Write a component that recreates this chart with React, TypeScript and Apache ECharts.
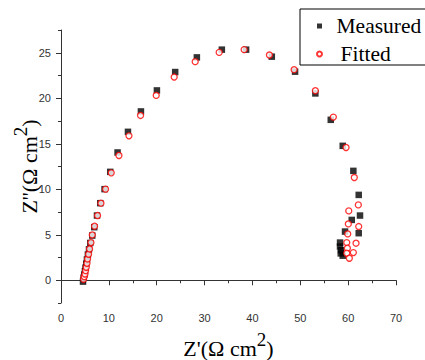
import React, { useEffect, useRef } from "react";
import * as echarts from "echarts";

// Measured impedance (Z' real, Z'' imaginary), Ω cm²
const measuredZr = [
  4.6, 4.72, 4.86, 5.0, 5.12, 5.27, 5.42, 5.62, 5.85, 6.12,
  6.53, 6.95, 7.52, 8.2, 9.1, 10.29, 11.82, 13.99, 16.7, 20.04,
  23.86, 28.39, 33.61, 38.68, 44.05, 48.91, 53.15, 56.37, 58.87, 61.09,
  62.21, 62.48, 62.21, 60.75, 59.35, 58.31, 58.3, 58.52, 58.45, 58.87,
];
const measuredZi = [
  -0.15, 0.28, 0.62, 1.0, 1.38, 1.82, 2.28, 2.82, 3.4, 4.1,
  4.91, 5.83, 7.11, 8.47, 10.01, 11.91, 14.04, 16.31, 18.55, 20.86,
  22.88, 24.49, 25.34, 25.34, 24.57, 22.92, 20.53, 17.63, 14.77, 12.02,
  9.38, 7.11, 5.17, 6.63, 5.35, 4.14, 3.7, 3.3, 2.95, 2.7,
];

// Fitted impedance
const fittedZr = [
  4.72, 4.86, 5.01, 5.14, 5.28, 5.43, 5.55, 5.76, 5.97, 6.26,
  6.53, 7.01, 7.64, 8.35, 9.31, 10.5, 12.11, 14.2, 16.62, 19.9,
  23.65, 28.04, 33.05, 38.27, 43.55, 48.71, 53.15, 56.91, 59.56, 61.29,
  62.13, 60.13, 62.21, 60.04, 59.92, 61.65, 59.71, 59.84, 61.09, 59.71, 60.25,
];
const fittedZi = [
  0.11, 0.4, 0.69, 1.06, 1.43, 1.87, 2.34, 2.86, 3.44, 4.14,
  4.98, 5.94, 7.11, 8.47, 10.01, 11.8, 13.71, 15.87, 18.11, 20.31,
  22.33, 24.02, 25.04, 25.34, 24.75, 23.14, 20.83, 17.93, 14.59, 11.29,
  8.28, 7.62, 5.9, 6.19, 5.09, 4.07, 4.14, 3.52, 3.04, 2.97, 2.42,
];

const yMajorTicks = [0, 5, 10, 15, 20, 25];
const seriesNames = ["Measured", "Fitted"];
const xTitle = "Z'(Ω cm{sup|2})";
const yTitle = "Z''(Ω cm{sup|2})";

const serif = "'Liberation Serif', 'Times New Roman', serif";
const sans = "'Liberation Sans', Arial, sans-serif";

export default function App() {
  const ref = useRef<HTMLDivElement>(null);
  useEffect(() => {
    const chart = echarts.init(ref.current!, null, { renderer: "svg" });
    const measured = measuredZr.map((x, i) => [x, measuredZi[i]]);
    const fitted = fittedZr.map((x, i) => [x, fittedZi[i]]);
    const nameStyle = {
      fontFamily: serif,
      fontSize: 22,
      color: "#000",
      lineHeight: 36,
      rich: {
        sup: {
          fontFamily: serif,
          fontSize: 19,
          lineHeight: 19,
          verticalAlign: "top",
          color: "#000",
        },
      },
    };
    chart.setOption({
      animation: false,
      backgroundColor: "#fff",
      grid: {
        left: 61,
        right: 29,
        top: 30,
        bottom: 57,
        containLabel: false,
        outerBoundsMode: "none",
      },
      legend: {
        orient: "vertical",
        left: 300,
        top: 9,
        padding: [6, 30, 0, 16],
        itemGap: 6,
        itemWidth: 5,
        itemHeight: 5,
        borderColor: "#000",
        borderWidth: 1,
        textStyle: {
          fontFamily: serif,
          fontSize: 21.5,
          color: "#000",
          lineHeight: 22,
        },
        data: [
          { name: seriesNames[0], icon: "rect", textStyle: { padding: [0, 0, 0, 9.5] } },
          { name: seriesNames[1], icon: "circle", textStyle: { padding: [0, 0, 0, 13.5] } },
        ],
      },
      xAxis: {
        type: "value",
        min: 0,
        max: 70,
        interval: 10,
        name: xTitle,
        nameLocation: "middle",
        nameGap: 27,
        nameMoveOverlap: false,
        nameTextStyle: nameStyle,
        axisLine: { lineStyle: { color: "#333", width: 1 } },
        axisTick: { inside: false, length: 5, lineStyle: { color: "#333" } },
        minorTick: { show: true, splitNumber: 2, length: 3, lineStyle: { color: "#333" } },
        axisLabel: { fontFamily: sans, fontSize: 11, color: "#333", margin: 9 },
        splitLine: { show: false },
      },
      yAxis: [
        {
          type: "value",
          min: -2.5,
          max: 27.5,
          name: yTitle,
          nameLocation: "middle",
          nameGap: 14,
          nameMoveOverlap: false,
          nameTextStyle: nameStyle,
          axisLine: { onZero: false, lineStyle: { color: "#333", width: 1 } },
          axisTick: { length: 5, customValues: yMajorTicks, lineStyle: { color: "#333" } },
          axisLabel: {
            fontFamily: sans,
            fontSize: 11,
            color: "#333",
            margin: 10,
            customValues: yMajorTicks,
          },
          splitLine: { show: false },
        },
        {
          type: "value",
          position: "left",
          min: -2.5,
          max: 27.5,
          interval: 2.5,
          axisLine: { show: false, onZero: false },
          axisTick: { show: true, length: 3, lineStyle: { color: "#333" } },
          axisLabel: { show: false },
          splitLine: { show: false },
        },
      ],
      series: [
        {
          name: seriesNames[0],
          type: "scatter",
          data: measured,
          symbol: "rect",
          symbolSize: 6.5,
          itemStyle: { color: "#000" },
          z: 2,
        },
        {
          name: seriesNames[1],
          type: "scatter",
          data: fitted,
          symbol: "circle",
          symbolSize: 6,
          itemStyle: { color: "#fff", borderColor: "#ff0000", borderWidth: 1.3 },
          z: 3,
        },
      ],
    });
    return () => chart.dispose();
  }, []);
  return (
    <div
      ref={ref}
      style={{ position: "absolute", left: 0, top: 0, width: 425, height: 360 }}
    />
  );
}
